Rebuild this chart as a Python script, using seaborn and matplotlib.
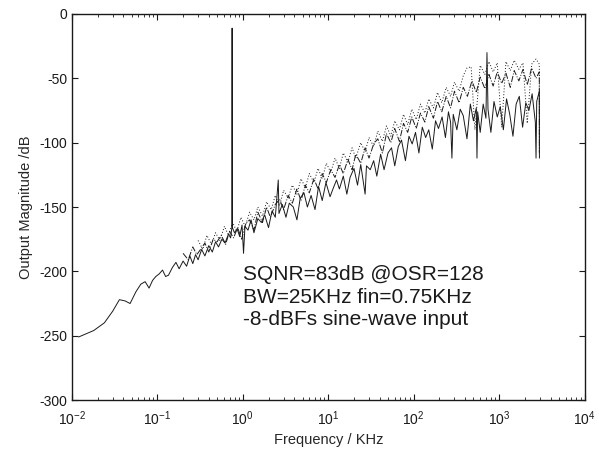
import pandas as pd
import seaborn as sns
import matplotlib.pyplot as plt
from matplotlib.ticker import NullFormatter

# spectrum values (frequency in KHz, magnitude in dB)
freq_solid = [0.012, 0.018, 0.024, 0.030, 0.036, 0.042, 0.048, 0.056, 0.064, 0.072,
              0.080, 0.088, 0.096, 0.105, 0.115, 0.125, 0.135, 0.15, 0.165, 0.18,
              0.2, 0.22, 0.24, 0.26, 0.28, 0.30, 0.33, 0.36, 0.40, 0.44,
              0.48, 0.52, 0.57, 0.62, 0.68, 0.72, 0.745, 0.750, 0.755, 0.80,
              0.86, 0.92, 0.98, 1.02, 1.06, 1.15, 1.25, 1.35, 1.5, 1.65,
              1.8, 2.0, 2.2, 2.4, 2.6, 2.65, 2.9, 3.2, 3.5, 3.9,
              4.3, 4.7, 5.2, 5.7, 6.3, 7.0, 7.7, 8.5, 9.4, 10.5,
              11.5, 12.5, 13.5, 15, 16.5, 18, 20, 22, 24, 27,
              28, 31, 34, 37, 41, 45, 50, 55, 60, 66,
              72, 80, 88, 96, 105, 115, 126, 138, 150, 165,
              180, 195, 215, 235, 255, 270, 280, 290, 320, 350,
              380, 420, 460, 500, 540, 550, 560, 600, 650, 700,
              720, 740, 800, 870, 950, 1030, 1120, 1220, 1330, 1450,
              1580, 1720, 1880, 2050, 2230, 2430, 2650, 2700, 2750, 2950,
              2960]
mag_solid = [-251, -246, -240, -231, -222, -223, -225, -216, -210, -208,
             -213, -207, -204, -202, -199, -204, -203, -197, -193, -198,
             -192, -196, -188, -194, -187, -191, -183, -188, -180, -185,
             -177, -181, -175, -178, -171, -174, -166, -11, -166, -170,
             -167, -173, -164, -186, -165, -168, -160, -170, -159, -162,
             -156, -166, -153, -158, -129, -155, -148, -158, -147, -150,
             -160, -143, -139, -150, -141, -152, -134, -145, -131, -142,
             -135, -129, -136, -126, -140, -127, -120, -133, -117, -140,
             -118, -121, -114, -126, -109, -121, -108, -104, -118, -103,
             -98, -114, -95, -101, -92, -108, -88, -96, -90, -105,
             -83, -89, -80, -96, -76, -84, -112, -78, -90, -74,
             -79, -97, -70, -83, -73, -112, -76, -92, -70, -81,
             -30, -74, -92, -68, -80, -72, -90, -66, -78, -95,
             -70, -64, -88, -69, -75, -62, -84, -112, -68, -60,
             -112]

freq_dashdot = [0.20, 0.23, 0.26, 0.29, 0.32, 0.36, 0.40, 0.45, 0.50, 0.56,
                0.63, 0.70, 0.78, 0.87, 0.97, 1.08, 1.2, 1.35, 1.5, 1.7,
                1.9, 2.1, 2.4, 2.7, 3.0, 3.4, 3.8, 4.3, 4.8, 5.4,
                6.0, 6.8, 7.6, 8.5, 9.5, 10.7, 12, 13.5, 15, 17,
                19, 21, 24, 27, 30, 34, 38, 43, 48, 54,
                60, 68, 76, 85, 95, 107, 120, 135, 150, 170,
                190, 213, 240, 270, 300, 340, 380, 425, 480, 540,
                600, 680, 760, 850, 950, 1070, 1200, 1350, 1500, 1700,
                1900, 2130, 2400, 2700, 2950, 2955]
mag_dashdot = [-186, -191, -181, -187, -183, -178, -185, -175, -177, -172,
               -179, -169, -174, -166, -175, -163, -160, -168, -154, -162,
               -150, -158, -148, -144, -152, -141, -147, -136, -145, -133,
               -139, -128, -136, -124, -131, -121, -127, -117, -124, -113,
               -121, -109, -116, -104, -112, -101, -97, -108, -93, -100,
               -89, -99, -85, -92, -80, -89, -77, -84, -72, -81,
               -68, -76, -64, -73, -60, -69, -57, -64, -52, -61,
               -49, -58, -47, -56, -45, -54, -46, -57, -44, -52,
               -43, -55, -42, -50, -45, -108]

freq_dotted = [0.30, 0.34, 0.38, 0.43, 0.48, 0.54, 0.61, 0.68, 0.76, 0.85,
               0.95, 1.07, 1.2, 1.35, 1.5, 1.7, 1.9, 2.15, 2.4, 2.7,
               3.0, 3.4, 3.8, 4.3, 4.8, 5.4, 6.0, 6.8, 7.6, 8.5,
               9.5, 10.7, 12, 13.5, 15, 17, 19, 21, 24, 27,
               30, 34, 38, 43, 48, 54, 60, 68, 76, 85,
               95, 107, 120, 135, 150, 170, 190, 213, 240, 270,
               300, 340, 380, 420, 470, 520, 600, 680, 760, 850,
               950, 1070, 1200, 1350, 1500, 1700, 1900, 2130, 2400, 2700,
               2950, 2955]
mag_dotted = [-176, -183, -172, -179, -170, -176, -165, -172, -162, -169,
              -158, -165, -154, -160, -150, -157, -146, -152, -141, -149,
              -137, -143, -133, -140, -128, -135, -124, -131, -120, -128,
              -116, -123, -112, -120, -108, -115, -104, -112, -100, -107,
              -96, -103, -91, -99, -87, -95, -83, -90, -78, -86,
              -74, -82, -70, -77, -66, -73, -61, -69, -57, -64,
              -53, -60, -48, -42, -41, -90, -40, -47, -37, -45,
              -38, -88, -37, -44, -36, -43, -38, -85, -39, -35,
              -39, -107]

x_ticks = [1e-2, 1e-1, 1e0, 1e1, 1e2, 1e3, 1e4]
y_ticks = [-300, -250, -200, -150, -100, -50, 0]

annotation = "SQNR=83dB @OSR=128\nBW=25KHz fin=0.75KHz\n-8-dBFs sine-wave input"

sns.set_style("ticks", {"xtick.direction": "in", "ytick.direction": "in"})
plt.rcParams["font.family"] = ["Liberation Sans", "DejaVu Sans"]
plt.rcParams["mathtext.default"] = "regular"
plt.rcParams["axes.unicode_minus"] = False

fig, ax = plt.subplots(figsize=(5.99, 4.51), dpi=100)
fig.subplots_adjust(left=0.120, right=0.976, top=0.969, bottom=0.113)

ink = "#1a1a1a"
solid = pd.DataFrame({"f": freq_solid, "dB": mag_solid})
dashdot = pd.DataFrame({"f": freq_dashdot, "dB": mag_dashdot})
dotted = pd.DataFrame({"f": freq_dotted, "dB": mag_dotted})

sns.lineplot(data=dotted, x="f", y="dB", sort=False, estimator=None,
             color=ink, linewidth=0.7, linestyle=(0, (1, 2)), ax=ax)
sns.lineplot(data=dashdot, x="f", y="dB", sort=False, estimator=None,
             color=ink, linewidth=0.7, linestyle="-.", ax=ax)
sns.lineplot(data=solid, x="f", y="dB", sort=False, estimator=None,
             color=ink, linewidth=0.7, ax=ax)

ax.set_xscale("log")
ax.set_xticks(x_ticks)
ax.set_yticks(y_ticks)
ax.set_xlim(1e-2, 1e4)
ax.set_ylim(-300, 0)
ax.xaxis.set_minor_formatter(NullFormatter())
ax.tick_params(which="both", top=True, right=True, labelsize=10, colors=ink)
ax.tick_params(which="major", length=4)
ax.tick_params(which="minor", length=2)
ax.tick_params(axis="x", which="major", pad=7)
for s in ax.spines.values():
    s.set_color(ink)
    s.set_linewidth(1.0)

ax.set_xlabel("Frequency / KHz", fontsize=10.5, labelpad=3)
ax.set_ylabel("Output Magnitude /dB", fontsize=10.5, labelpad=4)

ax.text(1.0, -220, annotation, fontsize=15, va="center", ha="left",
        linespacing=1.25, color=ink)

fig.savefig("out.png", dpi=100)
